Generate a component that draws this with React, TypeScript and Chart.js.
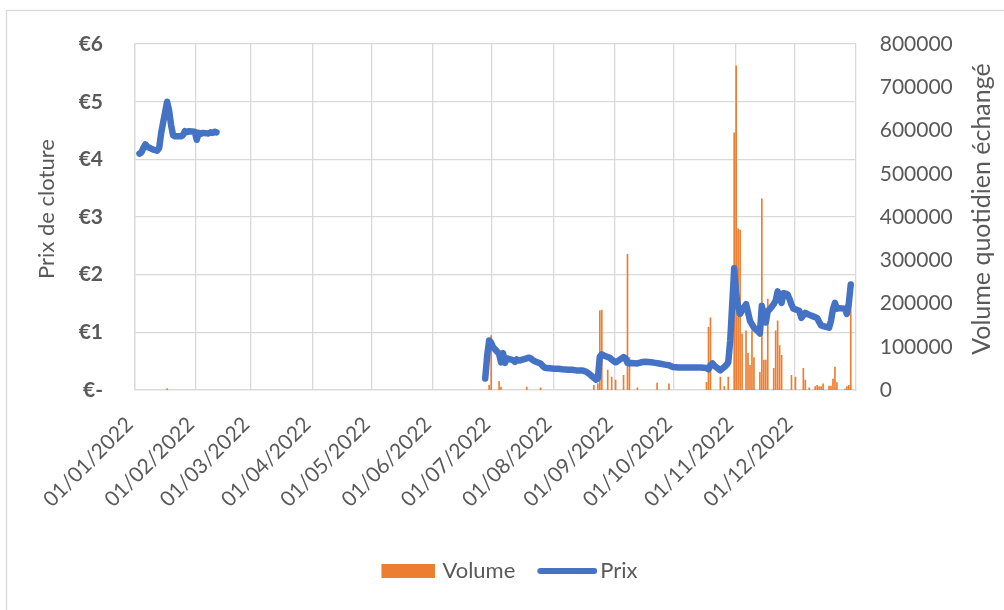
import { useEffect, useRef } from "react";
import { Chart, registerables } from "chart.js";

Chart.register(...registerables);

const YEAR = 2022;
const FONT = "Lato, 'Open Sans', sans-serif";
const TEXT = "#595959";
const GRID = "#D9D9D9";
const ORANGE = "#ED7D31";
const BLUE = "#4472C4";

const leftAxisTitle = "Prix de cloture";
const rightAxisTitle = "Volume quotidien échangé";

const monthTickLabels = [
  "01/01/2022", "01/02/2022", "01/03/2022", "01/04/2022", "01/05/2022", "01/06/2022",
  "01/07/2022", "01/08/2022", "01/09/2022", "01/10/2022", "01/11/2022", "01/12/2022",
];

// Closing price, first period (January - February)
const priceDatesA = [
  "03/01", "04/01", "05/01", "06/01", "07/01", "10/01", "11/01", "12/01", "13/01", "14/01",
  "17/01", "18/01", "19/01", "20/01", "21/01", "24/01", "25/01", "26/01", "27/01", "28/01",
  "31/01", "01/02", "02/02", "03/02", "04/02", "07/02", "08/02", "09/02", "10/02", "11/02",
];
const priceValuesA = [
  4.10, 4.12, 4.20, 4.26, 4.22, 4.17, 4.16, 4.15, 4.20, 4.46,
  5.00, 4.85, 4.60, 4.42, 4.40, 4.40, 4.42, 4.49, 4.47, 4.49,
  4.48, 4.34, 4.46, 4.44, 4.46, 4.45, 4.47, 4.46, 4.48, 4.47,
];

// Closing price, second period (end of June - December)
const priceDatesB = [
  "27/06", "28/06", "29/06", "30/06", "01/07", "04/07", "05/07", "06/07", "07/07", "08/07",
  "11/07", "12/07", "13/07", "14/07", "15/07", "18/07", "19/07", "20/07", "21/07", "22/07",
  "25/07", "26/07", "27/07", "28/07", "01/08", "03/08", "05/08", "08/08", "10/08", "12/08",
  "15/08", "17/08", "19/08", "22/08", "23/08", "24/08", "25/08", "26/08", "29/08", "30/08",
  "31/08", "01/09", "02/09", "05/09", "06/09", "07/09", "08/09", "09/09", "12/09", "14/09",
  "16/09", "19/09", "21/09", "23/09", "26/09", "28/09", "30/09", "03/10", "05/10", "07/10",
  "10/10", "12/10", "14/10", "17/10", "18/10", "19/10", "20/10", "21/10", "24/10", "25/10",
  "26/10", "27/10", "28/10", "29/10", "31/10", "01/11", "02/11", "03/11", "04/11", "06/11",
  "07/11", "08/11", "10/11", "12/11", "13/11", "14/11", "15/11", "16/11", "17/11", "18/11",
  "20/11", "21/11", "22/11", "23/11", "24/11", "25/11", "26/11", "27/11", "28/11", "29/11",
  "30/11", "01/12", "03/12", "04/12", "05/12", "06/12", "07/12", "09/12", "12/12", "13/12",
  "14/12", "15/12", "16/12", "18/12", "19/12", "20/12", "21/12", "22/12", "23/12", "26/12",
  "27/12", "28/12", "29/12",
];
const priceValuesB = [
  0.20, 0.60, 0.86, 0.82, 0.74, 0.63, 0.48, 0.64, 0.47, 0.55,
  0.52, 0.49, 0.53, 0.51, 0.52, 0.55, 0.56, 0.55, 0.52, 0.50,
  0.46, 0.42, 0.39, 0.38, 0.37, 0.37, 0.36, 0.35, 0.35, 0.34,
  0.34, 0.32, 0.27, 0.18, 0.20, 0.58, 0.62, 0.60, 0.56, 0.53,
  0.50, 0.48, 0.50, 0.57, 0.55, 0.47, 0.46, 0.47, 0.46, 0.48,
  0.49, 0.48, 0.47, 0.46, 0.44, 0.43, 0.40, 0.39, 0.39, 0.39,
  0.39, 0.39, 0.39, 0.38, 0.36, 0.43, 0.46, 0.42, 0.34, 0.37,
  0.40, 0.43, 0.48, 0.86, 2.11, 1.66, 1.45, 1.32, 1.38, 1.49,
  1.35, 1.20, 1.08, 1.02, 0.98, 1.46, 1.30, 1.17, 1.37, 1.40,
  1.49, 1.55, 1.71, 1.60, 1.51, 1.68, 1.67, 1.66, 1.58, 1.48,
  1.41, 1.40, 1.37, 1.25, 1.30, 1.34, 1.32, 1.29, 1.25, 1.18,
  1.12, 1.11, 1.10, 1.08, 1.20, 1.40, 1.51, 1.41, 1.42, 1.41,
  1.32, 1.50, 1.83,
];

// Daily traded volume
const volumeDates = [
  "17/01", "29/06", "30/06", "04/07", "05/07", "18/07", "25/07", "21/08", "23/08", "24/08",
  "25/08", "28/08", "30/08", "01/09", "05/09", "07/09", "08/09", "12/09", "22/09", "28/09",
  "17/10", "18/10", "19/10", "24/10", "26/10", "28/10", "31/10", "01/11", "02/11", "03/11",
  "04/11", "06/11", "07/11", "08/11", "09/11", "10/11", "13/11", "14/11", "15/11", "16/11",
  "17/11", "20/11", "21/11", "22/11", "23/11", "24/11", "29/11", "01/12", "05/12", "06/12",
  "08/12", "11/12", "12/12", "13/12", "14/12", "15/12", "18/12", "19/12", "20/12", "21/12",
  "22/12", "26/12", "27/12", "28/12", "29/12",
];
const volumeValues = [
  3000, 11000, 126000, 20000, 7000, 7000, 5000, 11000, 15000, 183000,
  185000, 46000, 30000, 23000, 34000, 314000, 75000, 5000, 16000, 14000,
  18000, 145000, 167000, 30000, 8000, 30000, 595000, 750000, 373000, 370000,
  130000, 137000, 85000, 57000, 137000, 75000, 41000, 442000, 69000, 69000,
  210000, 50000, 137000, 160000, 103000, 80000, 34000, 30000, 50000, 23000,
  5000, 8000, 11000, 8000, 8000, 14000, 9000, 9000, 25000, 53000,
  17000, 2000, 8000, 11000, 199000,
];

function dayOfYear(s: string): number {
  const [dd, mm] = s.split("/").map(Number);
  return (Date.UTC(YEAR, mm - 1, dd) - Date.UTC(YEAR, 0, 1)) / 86400000;
}

const monthTickDays = monthTickLabels.map((l) => dayOfYear(l));

function makeVolumeSwatch(): HTMLCanvasElement {
  const c = document.createElement("canvas");
  c.width = 68;
  c.height = 14;
  const ctx = c.getContext("2d")!;
  ctx.fillStyle = ORANGE;
  ctx.fillRect(14, 0, 54, 14);
  return c;
}

function makeLineSwatch(): HTMLCanvasElement {
  const c = document.createElement("canvas");
  c.width = 76;
  c.height = 14;
  const ctx = c.getContext("2d")!;
  ctx.strokeStyle = BLUE;
  ctx.lineWidth = 6;
  ctx.lineCap = "round";
  ctx.beginPath();
  ctx.moveTo(19, 7);
  ctx.lineTo(73, 7);
  ctx.stroke();
  return c;
}

const framePlugin = {
  id: "frame",
  beforeDraw(chart: any) {
    const ctx = chart.ctx;
    ctx.save();
    ctx.fillStyle = "#FFFFFF";
    ctx.fillRect(0, 0, chart.width, chart.height);
    ctx.strokeStyle = GRID;
    ctx.lineWidth = 1.3;
    ctx.strokeRect(6.5, 10.5, 1200, 800);
    ctx.restore();
  },
  afterDraw(chart: any) {
    const ctx = chart.ctx;
    const area = chart.chartArea;
    const cy = (area.top + area.bottom) / 2 - 8;
    ctx.save();
    ctx.fillStyle = TEXT;
    ctx.textAlign = "center";
    ctx.textBaseline = "middle";
    ctx.font = `22px ${FONT}`;
    ctx.translate(47, cy);
    ctx.rotate(-Math.PI / 2);
    ctx.fillText(leftAxisTitle, 0, 0);
    ctx.restore();
    ctx.save();
    ctx.fillStyle = TEXT;
    ctx.textAlign = "center";
    ctx.textBaseline = "middle";
    ctx.font = `25px ${FONT}`;
    ctx.translate(982, cy);
    ctx.rotate(-Math.PI / 2);
    ctx.fillText(rightAxisTitle, 0, 0);
    ctx.restore();
  },
};

export default function App() {
  const ref = useRef<HTMLCanvasElement>(null);

  useEffect(() => {
    document.body.style.margin = "0";
    const canvas = ref.current!;
    const volSwatch = makeVolumeSwatch();
    const lineSwatch = makeLineSwatch();

    const pricePoints: { x: number; y: number | null }[] = [];
    priceDatesA.forEach((d, i) => pricePoints.push({ x: dayOfYear(d) + 0.5, y: priceValuesA[i] }));
    pricePoints.push({ x: (dayOfYear(priceDatesA[priceDatesA.length - 1]) + dayOfYear(priceDatesB[0])) / 2, y: null });
    priceDatesB.forEach((d, i) => pricePoints.push({ x: dayOfYear(d) + 0.5, y: priceValuesB[i] }));

    const volumePoints = volumeDates.map((d, i) => ({ x: dayOfYear(d) + 0.5, y: volumeValues[i] }));

    const chart = new Chart(canvas, {
      type: "bar",
      data: {
        datasets: [
          {
            type: "bar",
            label: "Volume",
            data: volumePoints as any,
            yAxisID: "y1",
            backgroundColor: ORANGE,
            borderWidth: 0,
            barThickness: 1,
            order: 2,
          },
          {
            type: "line",
            label: "Prix",
            data: pricePoints as any,
            yAxisID: "y",
            borderColor: BLUE,
            backgroundColor: BLUE,
            borderWidth: 6.5,
            borderJoinStyle: "round",
            borderCapStyle: "round",
            pointRadius: 0,
            tension: 0,
            spanGaps: false,
            order: 1,
          },
        ],
      },
      options: {
        responsive: false,
        animation: false,
        layout: { padding: { left: 5, right: 0, top: 40, bottom: 18 } },
        plugins: {
          tooltip: { enabled: false },
          legend: {
            position: "bottom",
            labels: {
              usePointStyle: true,
              pointStyleWidth: 60,
              padding: 14,
              color: TEXT,
              font: { family: FONT, size: 22 },
              sort: (a: any, b: any) => a.datasetIndex - b.datasetIndex,
              generateLabels: (ch: any) => {
                const items = (Chart.defaults.plugins.legend.labels as any).generateLabels(ch);
                return items.map((it: any) => ({
                  ...it,
                  pointStyle: it.datasetIndex === 0 ? volSwatch : lineSwatch,
                  fontColor: TEXT,
                }));
              },
            },
          },
        },
        scales: {
          x: {
            type: "linear",
            min: 0,
            max: 365,
            offset: false,
            afterBuildTicks: (s: any) => {
              s.ticks = monthTickDays.map((v) => ({ value: v }));
            },
            afterFit: (s: any) => {
              s.height = 156;
            },
            ticks: {
              autoSkip: false,
              minRotation: 45,
              maxRotation: 45,
              padding: 22,
              labelOffset: -5,
              color: TEXT,
              font: { family: FONT, size: 21 },
              callback: (v: any) => {
                const i = monthTickDays.indexOf(Number(v));
                return i >= 0 ? monthTickLabels[i] : "";
              },
            },
            grid: { color: GRID, lineWidth: 1.3, drawTicks: false, offset: false },
            border: { color: GRID, width: 1.3 },
          },
          y: {
            position: "left",
            min: 0,
            max: 6,
            afterFit: (s: any) => {
              s.width = 129.5;
            },
            ticks: {
              stepSize: 1,
              padding: 31.5,
              color: TEXT,
              font: { family: FONT, size: 21, weight: "bold" },
              callback: (v: any) => (Number(v) === 0 ? "€-" : "€" + v),
            },
            grid: { color: GRID, lineWidth: 1.3, drawTicks: false },
            border: { color: GRID, width: 1.3 },
          },
          y1: {
            position: "right",
            min: 0,
            max: 800000,
            afterFit: (s: any) => {
              s.width = 148.3;
            },
            ticks: {
              stepSize: 100000,
              padding: 24,
              color: TEXT,
              font: { family: FONT, size: 21 },
              callback: (v: any) => String(v),
            },
            grid: { display: false, drawTicks: false },
            border: { color: GRID, width: 1.3 },
          },
        },
      } as any,
      plugins: [framePlugin],
    });

    return () => chart.destroy();
  }, []);

  return (
    <canvas
      ref={ref}
      width={1004}
      height={610}
      style={{ display: "block", width: "1004px", height: "610px" }}
    />
  );
}
